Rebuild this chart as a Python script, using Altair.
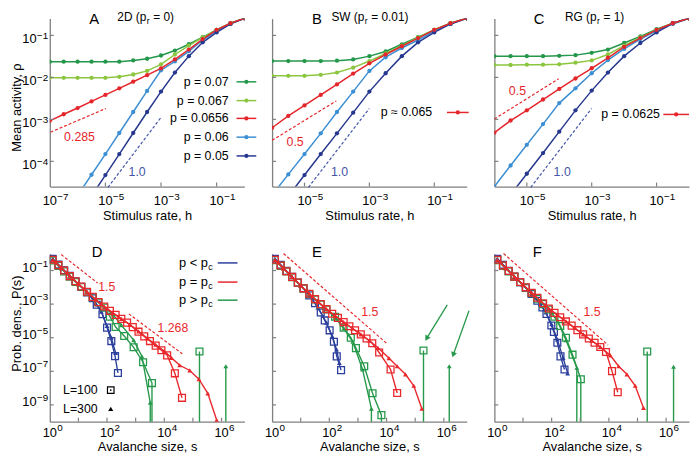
import altair as alt
import pandas as pd

FONT = "Liberation Sans"
AXC = "#7f7f7f"
W, H = 197, 170

C_P070 = "#24974b"
C_P067 = "#8cc640"
C_PC = "#e4262b"
C_P060 = "#3c8fd3"
C_P050 = "#27388f"
C_BLUE = "#2c3f9c"
C_GREEN = "#26994a"
C_RED = "#e9282c"
C_DBLUE = "#4355a8"

# tick-label exponents
A_XEXP = [-7, -5, -3, -1]
BC_XEXP = [-5, -3, -1]
TOP_YEXP = [-1, -2, -3, -4]
BOT_XEXP = [0, 2, 4, 6]
BOT_YEXP = [-1, -3, -5, -7, -9]

# ---------------- top row: log10(mean activity) vs log10(h) ----------------
A_LOGH = [-7.0, -6.5, -6.0, -5.5, -5.0, -4.5, -4.0, -3.5, -3.0, -2.5, -2.0, -1.5, -1.0, -0.5, 0.0]
A_P070 = [-1.627, -1.627, -1.627, -1.627, -1.627, -1.627, -1.596, -1.556, -1.479, -1.361, -1.211, -1.040, -0.869, -0.711, -0.594]
A_P067 = [-2.010, -2.010, -2.010, -2.010, -2.010, -1.987, -1.932, -1.846, -1.689, -1.455, -1.243, -1.048, -0.868, -0.711, -0.594]
A_PC = [-3.035, -2.878, -2.730, -2.573, -2.418, -2.261, -2.103, -1.948, -1.784, -1.573, -1.338, -1.087, -0.868, -0.711, -0.594]
A_P060 = [-5.798, -5.305, -4.812, -4.319, -3.826, -3.325, -2.824, -2.323, -1.830, -1.620, -1.380, -1.110, -0.890, -0.727, -0.594]
A_P050 = [-6.329, -5.829, -5.328, -4.827, -4.326, -3.826, -3.325, -2.824, -2.339, -1.885, -1.494, -1.165, -0.930, -0.727, -0.594]

B_LOGH = [-6.0, -5.5, -5.0, -4.5, -4.0, -3.5, -3.0, -2.5, -2.0, -1.5, -1.0, -0.5, 0.0]
B_P070 = [-1.611, -1.611, -1.611, -1.611, -1.603, -1.572, -1.494, -1.384, -1.212, -1.040, -0.868, -0.711, -0.594]
B_P067 = [-1.963, -1.963, -1.963, -1.940, -1.885, -1.768, -1.611, -1.431, -1.243, -1.048, -0.868, -0.711, -0.594]
B_PC = [-3.200, -2.918, -2.667, -2.417, -2.167, -1.909, -1.666, -1.455, -1.259, -1.063, -0.868, -0.711, -0.594]
B_P060 = [-4.803, -4.310, -3.826, -3.333, -2.824, -2.339, -1.846, -1.520, -1.300, -1.110, -0.900, -0.727, -0.594]
B_P050 = [-5.328, -4.827, -4.326, -3.826, -3.333, -2.840, -2.339, -1.901, -1.494, -1.165, -0.930, -0.727, -0.594]

C_LOGH = [-6.0, -5.5, -5.0, -4.5, -4.0, -3.5, -3.0, -2.5, -2.0, -1.5, -1.0, -0.5, 0.0]
C_P070V = [-1.494, -1.494, -1.494, -1.494, -1.486, -1.470, -1.415, -1.337, -1.181, -1.024, -0.852, -0.711, -0.594]
C_P067V = [-1.705, -1.705, -1.697, -1.697, -1.689, -1.650, -1.595, -1.455, -1.243, -1.048, -0.868, -0.711, -0.594]
C_PCV = [-3.317, -3.027, -2.785, -2.527, -2.276, -2.026, -1.783, -1.533, -1.275, -1.063, -0.868, -0.711, -0.594]
C_P060V = [-4.600, -4.099, -3.606, -3.113, -2.613, -2.261, -1.901, -1.588, -1.322, -1.087, -0.892, -0.727, -0.594]
C_P050V = [-5.289, -4.796, -4.295, -3.802, -3.293, -2.785, -2.315, -1.885, -1.494, -1.181, -0.930, -0.711, -0.594]

# dashed guide lines: (log h1, log rho1, log h2, log rho2)
A_DASH_RED = [-6.975, -3.306, -4.985, -2.741]
A_DASH_BLUE = [-4.91, -4.62, -2.995, -2.95]
B_DASH_RED = [-6.0, -3.50, -4.02, -2.56]
B_DASH_BLUE = [-4.88, -4.62, -3.003, -2.741]
C_DASH_RED = [-6.0, -2.99, -4.02, -2.035]
C_DASH_BLUE = [-4.88, -4.62, -3.003, -2.741]

# ---------------- bottom row: log10 P(s) vs log10 s ----------------
D_BLUE_SQ_S = [0.1, 0.3, 0.5, 0.7, 0.9, 1.1, 1.3, 1.5, 1.64, 1.84, 2.0, 2.15, 2.28, 2.38]
D_BLUE_SQ_P = [-0.3, -0.64, -0.98, -1.32, -1.64, -1.97, -2.3, -2.65, -3.04, -3.6, -4.4, -5.2, -6.1, -7.1]
D_BLUE_TR_S = [0.1, 0.4, 0.7, 1.0, 1.3, 1.6, 1.8, 2.0, 2.15, 2.3]
D_BLUE_TR_P = [-0.3, -0.82, -1.32, -1.8, -2.3, -2.95, -3.45, -4.3, -5.0, -5.9]
D_GREEN_SQ_S = [0.1, 0.3, 0.5, 0.7, 0.9, 1.1, 1.3, 1.5, 1.7, 1.9, 2.1, 2.3, 2.6, 2.93, 3.26, 3.57, 3.57]
D_GREEN_SQ_P = [-0.4, -0.72, -1.05, -1.37, -1.68, -1.98, -2.28, -2.58, -2.9, -3.2, -3.75, -4.36, -4.9, -5.57, -6.46, -7.7, -12]
D_GREEN_TR_S = [0.1, 0.4, 0.7, 1.0, 1.3, 1.6, 1.9, 2.2, 2.5, 2.93, 3.22, 3.51, 3.51]
D_GREEN_TR_P = [-0.4, -0.88, -1.37, -1.83, -2.28, -2.74, -3.2, -3.6, -4.25, -5.14, -6.11, -8.87, -12]
D_SPIKE_SQ = [5.23, -5.82]
D_SPIKE_TR = [6.15, -6.7]
D_RED_SQ_S = [0.1, 0.3, 0.5, 0.7, 0.9, 1.1, 1.3, 1.5, 1.7, 1.9, 2.1, 2.3, 2.5, 2.7, 2.9, 3.1, 3.3, 3.5, 3.7, 3.9, 4.1, 4.37, 4.62]
D_RED_SQ_P = [-0.36, -0.68, -1.0, -1.33, -1.64, -1.95, -2.26, -2.57, -2.88, -3.14, -3.4, -3.64, -3.88, -4.1, -4.37, -4.64, -4.92, -5.2, -5.47, -5.75, -6.05, -7.12, -8.58]
D_RED_TR_S = [0.1, 0.4, 0.7, 1.0, 1.3, 1.6, 1.9, 2.2, 2.5, 2.8, 3.1, 3.4, 3.7, 4.0, 4.25, 4.54, 4.89, 5.21, 5.52, 5.83]
D_RED_TR_P = [-0.36, -0.84, -1.33, -1.8, -2.26, -2.72, -3.14, -3.52, -3.88, -4.23, -4.62, -5.02, -5.42, -5.8, -6.2, -6.64, -6.95, -7.47, -8.31, -9.9]

E_BLUE_SQ_S = [0.1, 0.3, 0.5, 0.7, 0.9, 1.1, 1.3, 1.5, 1.7, 1.84, 2.01, 2.16, 2.26, 2.41]
E_BLUE_SQ_P = [-0.3, -0.66, -1.02, -1.38, -1.72, -2.07, -2.48, -2.95, -3.5, -3.97, -4.56, -5.24, -6.11, -6.93]
E_BLUE_TR_S = [0.1, 0.4, 0.7, 1.0, 1.3, 1.6, 1.9, 2.1, 2.25, 2.35]
E_BLUE_TR_P = [-0.3, -0.84, -1.38, -1.9, -2.48, -3.2, -4.1, -4.9, -5.7, -6.5]
E_GREEN_SQ_S = [0.1, 0.3, 0.5, 0.7, 0.9, 1.1, 1.3, 1.5, 1.7, 1.9, 2.2, 2.5, 2.75, 2.93, 3.22, 3.51, 3.82, 3.82]
E_GREEN_SQ_P = [-0.38, -0.72, -1.06, -1.4, -1.73, -2.06, -2.4, -2.72, -3.02, -3.32, -3.75, -4.4, -5.0, -5.62, -6.7, -8.31, -9.61, -12]
E_GREEN_TR_S = [0.1, 0.4, 0.7, 1.0, 1.3, 1.6, 1.9, 2.2, 2.5, 2.82, 3.16, 3.47, 3.47]
E_GREEN_TR_P = [-0.38, -0.89, -1.4, -1.9, -2.4, -2.87, -3.32, -3.8, -4.45, -5.24, -6.89, -9.22, -12]
E_SPIKE_SQ = [5.29, -5.76]
E_SPIKE_TR = [6.19, -6.7]
E_RED_SQ_S = [0.1, 0.3, 0.5, 0.7, 0.9, 1.1, 1.3, 1.5, 1.7, 1.9, 2.1, 2.3, 2.5, 2.7, 2.9, 3.1, 3.3, 3.5, 3.74, 4.14, 4.37]
E_RED_SQ_P = [-0.36, -0.7, -1.04, -1.38, -1.72, -2.06, -2.38, -2.7, -3.0, -3.3, -3.57, -3.82, -4.07, -4.32, -4.56, -4.8, -5.05, -5.33, -5.88, -6.89, -8.29]
E_RED_TR_S = [0.1, 0.4, 0.7, 1.0, 1.3, 1.6, 1.9, 2.2, 2.5, 2.8, 3.1, 3.4, 3.7, 4.08, 4.37, 4.66, 4.95, 5.23]
E_RED_TR_P = [-0.36, -0.87, -1.38, -1.89, -2.38, -2.85, -3.3, -3.7, -4.07, -4.44, -4.8, -5.18, -5.6, -6.21, -6.7, -7.18, -7.86, -9.22]

F_BLUE_SQ_S = [0.1, 0.3, 0.5, 0.7, 0.9, 1.1, 1.3, 1.5, 1.68, 1.82, 1.99, 2.08, 2.2, 2.31, 2.45]
F_BLUE_SQ_P = [-0.3, -0.66, -1.02, -1.36, -1.7, -2.04, -2.4, -2.8, -3.2, -3.58, -4.27, -4.66, -5.3, -6.11, -6.89]
F_BLUE_TR_S = [0.1, 0.4, 0.7, 1.0, 1.3, 1.6, 1.8, 2.0, 2.2, 2.4, 2.56]
F_BLUE_TR_P = [-0.3, -0.84, -1.36, -1.87, -2.4, -3.0, -3.5, -4.2, -5.1, -6.2, -7.12]
F_GREEN_SQ_S = [0.1, 0.3, 0.5, 0.7, 0.9, 1.1, 1.3, 1.5, 1.7, 1.9, 2.1, 2.3, 2.5, 2.73, 3.02, 3.02]
F_GREEN_SQ_P = [-0.38, -0.72, -1.05, -1.38, -1.7, -2.02, -2.35, -2.68, -3.0, -3.32, -3.75, -4.3, -5.0, -6.01, -7.47, -12]
F_GREEN_TR_S = [0.1, 0.4, 0.7, 1.0, 1.3, 1.6, 1.9, 2.2, 2.5, 2.88, 2.88]
F_GREEN_TR_P = [-0.38, -0.88, -1.38, -1.86, -2.35, -2.84, -3.32, -4.0, -5.14, -6.79, -12]
F_SPIKE_SQ = [5.34, -5.82]
F_SPIKE_TR = [6.26, -6.73]
F_RED_SQ_S = [0.1, 0.3, 0.5, 0.7, 0.9, 1.1, 1.3, 1.5, 1.7, 1.9, 2.1, 2.3, 2.5, 2.7, 2.9, 3.1, 3.3, 3.5, 3.7, 3.9, 4.11, 4.31]
F_RED_SQ_P = [-0.36, -0.7, -1.03, -1.36, -1.68, -2.0, -2.32, -2.62, -2.95, -3.26, -3.52, -3.78, -4.03, -4.28, -4.55, -4.8, -5.05, -5.3, -5.55, -5.85, -6.99, -8.25]
F_RED_TR_S = [0.1, 0.4, 0.7, 1.0, 1.3, 1.6, 1.9, 2.2, 2.5, 2.8, 3.1, 3.4, 3.7, 4.05, 4.34, 4.63, 4.92, 5.21]
F_RED_TR_P = [-0.36, -0.86, -1.36, -1.84, -2.32, -2.78, -3.26, -3.65, -4.03, -4.42, -4.8, -5.17, -5.55, -6.05, -6.7, -7.18, -7.86, -9.18]

D_DASH_15 = [0.40, -0.05, 1.67, -1.74]
D_DASH_1268 = [2.76, -3.58, 4.63, -5.96]
E_DASH_15 = [0.40, 0.01, 4.0, -5.33]
F_DASH_15 = [0.32, 0.01, 3.97, -5.43]

# arrows in E: tail log s, tail log P, head log s, head log P
E_ARROW1 = [6.12, -3.04, 5.40, -5.04]
E_ARROW2 = [6.88, -3.40, 6.33, -6.01]

one = pd.DataFrame({"k": [0]})

AXK = dict(grid=False, ticks=False, tickSize=0, labels=False, domainColor=AXC, domainWidth=1.3,
           titleFont=FONT, titleFontSize=13, titleFontWeight="normal", titleColor="black")


def make_x(domain, title, title_y):
    return alt.X("x:Q", scale=alt.Scale(type="log", domain=domain, nice=False),
                 axis=alt.Axis(title=title, titleY=title_y, titleBaseline="alphabetic", **AXK))


def make_y(domain):
    return alt.Y("y:Q", scale=alt.Scale(type="log", domain=domain, nice=False),
                 axis=alt.Axis(title=None, **AXK))


def exp_text(e):
    return str(e).replace("-", "\u2212")


def xlabels(X, exps, base_y, exp_y):
    df = pd.DataFrame({"x": [10.0 ** e for e in exps], "e": [exp_text(e) for e in exps]})
    base = alt.Chart(df).mark_text(text="10", font=FONT, fontSize=13, align="center",
                                   baseline="alphabetic").encode(x=X, y=alt.value(base_y))
    ex = alt.Chart(df).mark_text(font=FONT, fontSize=10, align="left", baseline="alphabetic",
                                 dx=7.6).encode(x=X, y=alt.value(exp_y), text="e:N")
    return [base, ex]


def ylabels(Y, exps, base_dy, exp_dy):
    df = pd.DataFrame({"y": [10.0 ** e for e in exps], "e": [exp_text(e) for e in exps]})
    base = alt.Chart(df).mark_text(text="10", font=FONT, fontSize=13, align="right",
                                   baseline="alphabetic", dy=base_dy).encode(y=Y, x=alt.value(-13.3))
    ex = alt.Chart(df).mark_text(font=FONT, fontSize=10, align="left", baseline="alphabetic",
                                 dy=exp_dy).encode(y=Y, x=alt.value(-13), text="e:N")
    return [base, ex]


def text(s, x, y, size=12.5, color="black", align="center", baseline="alphabetic", angle=0):
    kw = dict(text=s, align=align, baseline=baseline, fontSize=size, color=color, font=FONT)
    if angle:
        kw["angle"] = angle
    return alt.Chart(one).mark_text(**kw).encode(x=alt.value(x), y=alt.value(y))


def seg(x1, x2, y, color, width=1.5):
    return alt.Chart(one).mark_rule(color=color, strokeWidth=width).encode(
        x=alt.value(x1), x2=alt.value(x2), y=alt.value(y))


def dot(x, y, color, shape="circle", size=18, filled=True):
    return alt.Chart(one).mark_point(shape=shape, filled=filled, size=size, color=color,
                                     opacity=1, strokeWidth=1.2).encode(x=alt.value(x), y=alt.value(y))


def title_parts(main, sub, rest, xr, y):
    return [text(main, xr, y, 12, align="right"),
            text(sub, xr + 0.5, y + 3, 8.5, align="left"),
            text(rest, xr + 7, y, 12, align="left")]


def ticks(X, Y, xv, yv):
    tx = alt.Chart(pd.DataFrame({"x": xv})).mark_rule(color=AXC, strokeWidth=1.2).encode(
        x=X, y=alt.value(H), y2=alt.value(H - 4))
    ty = alt.Chart(pd.DataFrame({"y": yv})).mark_rule(color=AXC, strokeWidth=1.2).encode(
        y=Y, x=alt.value(0), x2=alt.value(4))
    return [tx, ty]


def dash_df(items):
    rows = []
    for gi, (vals, color) in enumerate(items):
        rows.append(dict(x=10 ** vals[0], y=10 ** vals[1], c=color, g=gi))
        rows.append(dict(x=10 ** vals[2], y=10 ** vals[3], c=color, g=gi))
    return pd.DataFrame(rows)


def top_panel(logh, series, xmin, xexp, ylab, dashes, notes, extras):
    X = make_x([10 ** xmin, 1.0], "Stimulus rate, h", 33)
    Y = make_y([10 ** -4.6, 10 ** -0.6])
    rows = []
    for name, vals, color in series:
        for i, (a, b) in enumerate(zip(logh, vals)):
            rows.append(dict(x=10 ** a, y=10 ** b, c=color, g=name, o=i))
    df = pd.DataFrame(rows)
    col = alt.Color("c:N", scale=None)
    lines = alt.Chart(df).mark_line(strokeWidth=1.5, clip=True).encode(
        x=X, y=Y, color=col, detail="g:N", order="o:Q")
    pts = alt.Chart(df).mark_circle(size=19, opacity=1, clip=True).encode(x=X, y=Y, color=col)
    dsh = alt.Chart(dash_df(dashes)).mark_line(strokeDash=[3, 2], strokeWidth=1.2).encode(
        x=X, y=Y, color=col, detail="g:N")
    ndf = pd.DataFrame([dict(x=10 ** a, y=10 ** b, t=t, c=c) for a, b, t, c in notes])
    nt = alt.Chart(ndf).mark_text(font=FONT, fontSize=12.5, baseline="middle").encode(
        x=X, y=Y, text="t:N", color=col)
    layers = [dsh, lines, pts, nt] + ticks(X, Y, [1e-5, 1e-3, 1e-1], [1e-1, 1e-2, 1e-3, 1e-4])
    layers += xlabels(X, xexp, H + 19, H + 13.3)
    if ylab:
        layers += ylabels(Y, TOP_YEXP, 7.4, 3.4)
    return alt.layer(*(layers + extras)).properties(width=W, height=H)


def add_curve(rows, color, marker, logs, logp, gid):
    for i, (a, b) in enumerate(zip(logs, logp)):
        rows.append(dict(x=10 ** a, y=10 ** b, c=color, g=gid, o=i, m=("" if b <= -11 else marker)))


def bottom_panel(curves, dashes, notes, ylab):
    X = make_x([1.0, 10 ** 6.8], "Avalanche size, s", 29)
    Y = make_y([1e-10, 1.0])
    col = alt.Color("c:N", scale=None)
    layers = [alt.Chart(dash_df(dashes)).mark_line(strokeDash=[3, 2], strokeWidth=1.2).encode(
        x=X, y=Y, color=col, detail="g:N")]
    for color in [C_BLUE, C_GREEN, C_RED]:
        rows = []
        for gi, (c, marker, logs, logp) in enumerate(curves):
            if c == color:
                add_curve(rows, c, marker, logs, logp, gi)
        df = pd.DataFrame(rows)
        layers.append(alt.Chart(df).mark_line(strokeWidth=1.4, clip=True).encode(
            x=X, y=Y, color=col, detail="g:N", order="o:Q"))
        layers.append(alt.Chart(df).transform_filter(alt.datum.m == "sq").mark_point(
            shape="square", filled=False, size=48, strokeWidth=1.3, opacity=1, clip=True).encode(
            x=X, y=Y, color=col))
        layers.append(alt.Chart(df).transform_filter(alt.datum.m == "tr").mark_point(
            shape="triangle-up", filled=True, size=24, opacity=1, clip=True).encode(
            x=X, y=Y, color=col))
    ndf = pd.DataFrame([dict(x=10 ** a, y=10 ** b, t=t, c=c) for a, b, t, c in notes])
    layers.append(alt.Chart(ndf).mark_text(font=FONT, fontSize=12.5, baseline="middle").encode(
        x=X, y=Y, text="t:N", color=col))
    layers += ticks(X, Y, [10, 1e2, 1e3, 1e4, 1e5, 1e6], [1e-1, 1e-3, 1e-5, 1e-7, 1e-9])
    layers += xlabels(X, BOT_XEXP, H + 15.6, H + 9)
    if ylab:
        layers += ylabels(Y, BOT_YEXP, 1.0, -4.0)
    return X, Y, layers


def curves_for(bsq, btr, gsq, gtr, ssq, stri, rsq, rtr):
    return [
        (C_BLUE, "sq", bsq[0], bsq[1]), (C_BLUE, "tr", btr[0], btr[1]),
        (C_GREEN, "sq", gsq[0], gsq[1]), (C_GREEN, "tr", gtr[0], gtr[1]),
        (C_GREEN, "sq", [ssq[0], ssq[0]], [-12, ssq[1]]),
        (C_GREEN, "tr", [stri[0], stri[0]], [-12, stri[1]]),
        (C_RED, "sq", rsq[0], rsq[1]), (C_RED, "tr", rtr[0], rtr[1]),
    ]


# ---------- panel A ----------
leg_a = []
for (lab, color), yy in zip([("p = 0.07", C_P070), ("p = 0.067", C_P067), ("p = 0.0656", C_PC),
                             ("p = 0.06", C_P060), ("p = 0.05", C_P050)], [64, 83, 101, 120, 139]):
    leg_a += [text(lab, 181, yy, 12.5, align="right", baseline="middle"),
              seg(189, 209, yy, color), dot(199, yy, color)]
extras_a = leg_a + [text("A", 45, 5.7, 15)] + title_parts("2D (p", "r", "= 0)", 97.7, 2) + [
    text("Mean activity, ρ", -33, 90, 13, angle=270, baseline="middle")]
panel_a = top_panel(A_LOGH, [("p070", A_P070, C_P070), ("p067", A_P067, C_P067), ("p060", A_P060, C_P060),
                             ("p050", A_P050, C_P050), ("pc", A_PC, C_PC)],
                    -7, A_XEXP, True,
                    [(A_DASH_RED, C_PC), (A_DASH_BLUE, C_DBLUE)],
                    [(-5.93, -3.42, "0.285", C_PC), (-3.86, -4.25, "1.0", C_DBLUE)], extras_a)

# ---------- panel B ----------
extras_b = [text("p ≈ 0.065", 162, 95, 12.5, align="right", baseline="middle"),
            seg(177, 199, 95, C_PC), dot(188, 95, C_PC), text("B", 45.3, 5.7, 15)] + \
    title_parts("SW (p", "r", "= 0.01)", 93.4, 2)
panel_b = top_panel(B_LOGH, [("p070", B_P070, C_P070), ("p067", B_P067, C_P067), ("p060", B_P060, C_P060),
                             ("p050", B_P050, C_P050), ("pc", B_PC, C_PC)],
                    -6, BC_XEXP, False,
                    [(B_DASH_RED, C_PC), (B_DASH_BLUE, C_DBLUE)],
                    [(-5.29, -3.53, "0.5", C_PC), (-3.92, -4.26, "1.0", C_DBLUE)], extras_b)

# ---------- panel C ----------
extras_c = [text("p = 0.0625", 167.5, 97, 12.5, align="right", baseline="middle"),
            seg(171, 197, 97, C_PC), dot(184, 97, C_PC), text("C", 45.2, 5.7, 15)] + \
    title_parts("RG (p", "r", "= 1)", 103.4, 2)
panel_c = top_panel(C_LOGH, [("p070", C_P070V, C_P070), ("p067", C_P067V, C_P067), ("p060", C_P060V, C_P060),
                             ("p050", C_P050V, C_P050), ("pc", C_PCV, C_PC)],
                    -6, BC_XEXP, False,
                    [(C_DASH_RED, C_PC), (C_DASH_BLUE, C_DBLUE)],
                    [(-5.29, -2.33, "0.5", C_PC), (-3.91, -4.25, "1.0", C_DBLUE)], extras_c)

# ---------- panel D ----------
Xd, Yd, layers_d = bottom_panel(
    curves_for((D_BLUE_SQ_S, D_BLUE_SQ_P), (D_BLUE_TR_S, D_BLUE_TR_P), (D_GREEN_SQ_S, D_GREEN_SQ_P),
               (D_GREEN_TR_S, D_GREEN_TR_P), D_SPIKE_SQ, D_SPIKE_TR,
               (D_RED_SQ_S, D_RED_SQ_P), (D_RED_TR_S, D_RED_TR_P)),
    [(D_DASH_15, C_RED), (D_DASH_1268, C_RED)],
    [(1.99, -2.0, "1.5", C_RED), (4.3, -4.43, "1.268", C_RED)], True)
leg_d = []
for (lab, color), yy in zip([("p < p", C_BLUE), ("p = p", C_RED), ("p > p", C_GREEN)], [9.3, 28.7, 47]):
    leg_d += [text(lab, 160, yy, 13, align="right", baseline="middle"),
              text("c", 160.5, yy + 4, 9, align="left", baseline="middle"),
              seg(170, 190, yy, color)]
leg_d += [text("L=100", 13.4, 138, 12.5, align="left", baseline="middle"),
          dot(61.7, 138, "black", "square", 44, False), dot(61.7, 138, "black", "circle", 3, True),
          text("L=300", 13.4, 157, 12.5, align="left", baseline="middle"),
          dot(61.7, 157, "black", "triangle-up", 26, True),
          text("D", 48, 3.7, 15),
          text("Prob. dens., P(s)", -33, 70.7, 13, angle=270, baseline="middle")]
panel_d = alt.layer(*(layers_d + leg_d)).properties(width=W, height=H)

# ---------- panel E ----------
Xe, Ye, layers_e = bottom_panel(
    curves_for((E_BLUE_SQ_S, E_BLUE_SQ_P), (E_BLUE_TR_S, E_BLUE_TR_P), (E_GREEN_SQ_S, E_GREEN_SQ_P),
               (E_GREEN_TR_S, E_GREEN_TR_P), E_SPIKE_SQ, E_SPIKE_TR,
               (E_RED_SQ_S, E_RED_SQ_P), (E_RED_TR_S, E_RED_TR_P)),
    [(E_DASH_15, C_RED)], [(3.41, -3.47, "1.5", C_RED)], False)
arr_rows = []
for gi, a in enumerate([E_ARROW1, E_ARROW2]):
    arr_rows.append(dict(x=10 ** a[0], y=10 ** a[1], g=gi, o=0))
    arr_rows.append(dict(x=10 ** a[2], y=10 ** a[3], g=gi, o=1))
arr_df = pd.DataFrame(arr_rows)
arrows = [alt.Chart(arr_df).mark_line(color=C_GREEN, strokeWidth=1.3).encode(
    x=Xe, y=Ye, detail="g:N", order="o:Q")]
for a, ang in [(E_ARROW1, 211), (E_ARROW2, 199)]:
    hdf = pd.DataFrame({"x": [10 ** a[2]], "y": [10 ** a[3]]})
    arrows.append(alt.Chart(hdf).mark_point(shape="triangle-up", filled=True, size=38, opacity=1,
                                            color=C_GREEN, angle=ang).encode(x=Xe, y=Ye))
panel_e = alt.layer(*(layers_e + arrows + [text("E", 45.4, 3.7, 15)])).properties(width=W, height=H)

# ---------- panel F ----------
Xf, Yf, layers_f = bottom_panel(
    curves_for((F_BLUE_SQ_S, F_BLUE_SQ_P), (F_BLUE_TR_S, F_BLUE_TR_P), (F_GREEN_SQ_S, F_GREEN_SQ_P),
               (F_GREEN_TR_S, F_GREEN_TR_P), F_SPIKE_SQ, F_SPIKE_TR,
               (F_RED_SQ_S, F_RED_SQ_P), (F_RED_TR_S, F_RED_TR_P)),
    [(F_DASH_15, C_RED)], [(3.41, -3.47, "1.5", C_RED)], False)
panel_f = alt.layer(*(layers_f + [text("F", 43.5, 3.7, 15)])).properties(width=W, height=H)

chart = alt.concat(panel_a, panel_b, panel_c, panel_d, panel_e, panel_f, columns=3,
                   spacing={"row": 68, "column": 28}, bounds="flush").properties(
    padding={"left": 2.3, "top": 0, "right": 0, "bottom": 0}
).configure_view(stroke=None)

chart.save("out.html", embed_options={"renderer": "svg", "actions": False})
